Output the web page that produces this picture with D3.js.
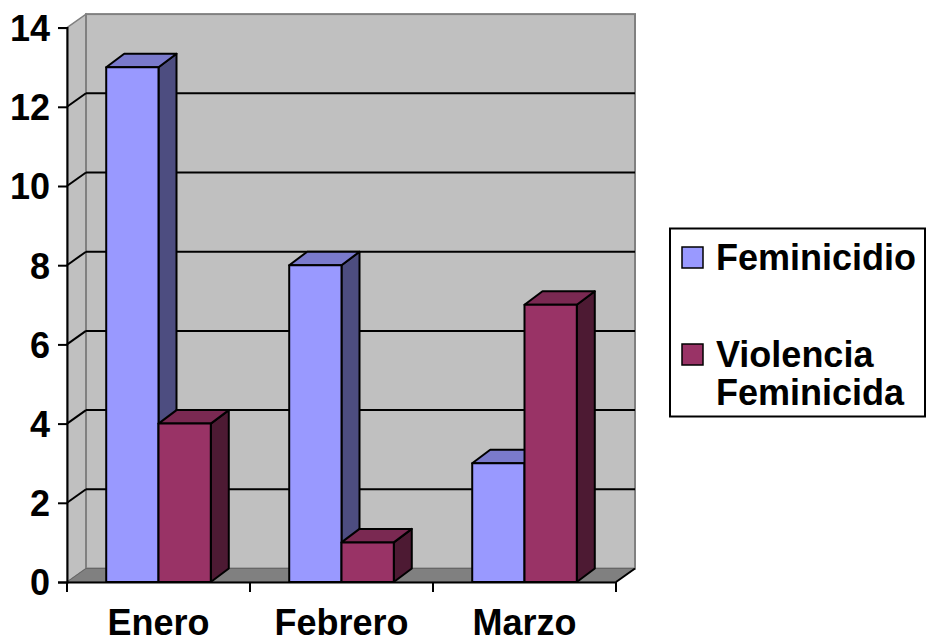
<!DOCTYPE html>
<html>
<head>
<meta charset="utf-8">
<script src="https://cdn.jsdelivr.net/npm/d3@7"></script>
<style>
  body { margin: 0; background: #fff; }
  svg text { font-family: "Liberation Sans", Arial, sans-serif; font-weight: bold; fill: #000; }
</style>
</head>
<body>
<svg id="chart" width="927" height="637"></svg>
<script>
// chart data
var months = ["Enero", "Febrero", "Marzo"];
var seriesNames = ["Feminicidio", "Violencia Feminicida"];
var feminicidio = [13, 8, 3];
var violencia = [4, 1, 7];
var yTicks = [0, 2, 4, 6, 8, 10, 12, 14];

var frontColors = ["#9999FF", "#993366"];
var topColors = ["#7A7ACC", "#7A2952"];
var sideColors = ["#4D4D80", "#4D1A33"];

var svg = d3.select("#chart");

//front plane of the plot and the depth offset used for the 3d look
//(window.top is read only, so these get plot prefixes)
var plotLeft = 67, plotRight = 616, plotBottom = 582, plotTop = 27.6;
var wallDx = 19, wallDy = 13.5;
var barDx = 18, barDy = 13.5;

var x0 = d3.scaleBand().domain(months).range([plotLeft, plotRight]).padding(0);
var x1 = d3.scaleBand().domain(seriesNames).range([0, x0.bandwidth()])
    .paddingInner(0).paddingOuter(0.75);
var y = d3.scaleLinear().domain([0, 14]).range([plotBottom, plotTop]);

function pts(list) {
    return list.map(function (p) { return p[0] + "," + p[1]; }).join(" ");
}

//left side wall
svg.append("polygon")
    .attr("points", pts([[plotLeft, y(14)], [plotLeft + wallDx, y(14) - wallDy], [plotLeft + wallDx, plotBottom - wallDy], [plotLeft, plotBottom]]))
    .attr("fill", "#C0C0C0").attr("stroke", "#808080").attr("stroke-width", 1.5);

//back wall
svg.append("rect")
    .attr("x", plotLeft + wallDx).attr("y", y(14) - wallDy)
    .attr("width", plotRight - plotLeft).attr("height", plotBottom - y(14))
    .attr("fill", "#C0C0C0").attr("stroke", "#808080").attr("stroke-width", 2);

//floor
svg.append("polygon")
    .attr("points", pts([[plotLeft, plotBottom], [plotRight, plotBottom], [plotRight + wallDx, plotBottom - wallDy], [plotLeft + wallDx, plotBottom - wallDy]]))
    .attr("fill", "#808080").attr("stroke", "#666").attr("stroke-width", 1);

//gridlines on the back wall and the side wall
var grid = yTicks.filter(function (d) { return d > 0 && d < 14; });
svg.selectAll(".gridBack")
    .data(grid).enter().append("line")
    .attr("class", "gridBack")
    .attr("x1", plotLeft + wallDx).attr("x2", plotRight + wallDx)
    .attr("y1", function (d) { return y(d) - wallDy; })
    .attr("y2", function (d) { return y(d) - wallDy; })
    .attr("stroke", "#000").attr("stroke-width", 2);
svg.selectAll(".gridSide")
    .data(grid).enter().append("line")
    .attr("class", "gridSide")
    .attr("x1", plotLeft).attr("x2", plotLeft + wallDx)
    .attr("y1", function (d) { return y(d); })
    .attr("y2", function (d) { return y(d) - wallDy; })
    .attr("stroke", "#000").attr("stroke-width", 2);

//bars, drawn left to right so the next bar covers the side of the one before
var bars = [];
months.forEach(function (m, i) {
    bars.push({ month: m, s: 0, value: feminicidio[i] });
    bars.push({ month: m, s: 1, value: violencia[i] });
});

var barG = svg.selectAll(".bar")
    .data(bars).enter().append("g")
    .attr("class", "bar");

function bx(d) { return x0(d.month) + x1(seriesNames[d.s]); }

barG.append("polygon")
    .attr("points", function (d) {
        var x = bx(d), w = x1.bandwidth(), yv = y(d.value);
        return pts([[x + w, yv], [x + w + barDx, yv - barDy], [x + w + barDx, plotBottom - barDy], [x + w, plotBottom]]);
    })
    .attr("fill", function (d) { return sideColors[d.s]; });

barG.append("polygon")
    .attr("points", function (d) {
        var x = bx(d), w = x1.bandwidth(), yv = y(d.value);
        return pts([[x, yv], [x + barDx, yv - barDy], [x + w + barDx, yv - barDy], [x + w, yv]]);
    })
    .attr("fill", function (d) { return topColors[d.s]; });

barG.append("rect")
    .attr("x", bx)
    .attr("y", function (d) { return y(d.value); })
    .attr("width", x1.bandwidth())
    .attr("height", function (d) { return plotBottom - y(d.value); })
    .attr("fill", function (d) { return frontColors[d.s]; });

barG.selectAll("polygon, rect")
    .attr("stroke", "#000").attr("stroke-width", 2).attr("stroke-linejoin", "round");

//front floor edge on the right
svg.append("line")
    .attr("x1", plotRight).attr("y1", plotBottom)
    .attr("x2", plotRight + wallDx).attr("y2", plotBottom - wallDy)
    .attr("stroke", "#000").attr("stroke-width", 2);

//value axis
var yAxis = d3.axisLeft(y).tickValues(yTicks).tickSize(9).tickPadding(8);
var yG = svg.append("g")
    .attr("transform", "translate(" + plotLeft + ",0)")
    .call(yAxis);
yG.select(".domain").attr("stroke", "#000").attr("stroke-width", 2);
yG.selectAll(".tick line").attr("stroke", "#000").attr("stroke-width", 2);
yG.selectAll("text").style("font-size", "36px").attr("dy", "0.36em");

//category axis
var xAxis = d3.axisBottom(x0).tickSize(0).tickPadding(27);
var xG = svg.append("g")
    .attr("transform", "translate(0," + plotBottom + ")")
    .call(xAxis);
xG.select(".domain").attr("stroke", "#000").attr("stroke-width", 2);
xG.selectAll("text").style("font-size", "36px");

var edges = months.map(function (m) { return x0(m); }).concat([x0.range()[1]]);
xG.selectAll(".edgeTick")
    .data(edges).enter().append("line")
    .attr("class", "edgeTick")
    .attr("x1", function (d) { return d; }).attr("x2", function (d) { return d; })
    .attr("y1", 0).attr("y2", 10)
    .attr("stroke", "#000").attr("stroke-width", 2);

//legend
var legend = svg.append("g");
legend.append("rect")
    .attr("x", 670).attr("y", 228.5).attr("width", 255).attr("height", 188)
    .attr("fill", "#fff").attr("stroke", "#000").attr("stroke-width", 2);

var legendLines = [["Feminicidio"], ["Violencia", "Feminicida"]];
var legendY = [270, 367];
var item = legend.selectAll(".legendItem")
    .data(seriesNames).enter().append("g")
    .attr("class", "legendItem");
item.append("rect")
    .attr("x", 682).attr("width", 21).attr("height", 21)
    .attr("y", function (d, i) { return legendY[i] - 23; })
    .attr("fill", function (d, i) { return frontColors[i]; })
    .attr("stroke", "#000").attr("stroke-width", 1.5);
item.append("text")
    .attr("x", 716)
    .attr("y", function (d, i) { return legendY[i]; })
    .style("font-size", "36px")
    .selectAll("tspan")
    .data(function (d, i) { return legendLines[i]; })
    .enter().append("tspan")
    .attr("x", 716)
    .attr("dy", function (d, j) { return j === 0 ? 0 : 38; })
    .text(function (d) { return d; });
</script>
</body>
</html>
